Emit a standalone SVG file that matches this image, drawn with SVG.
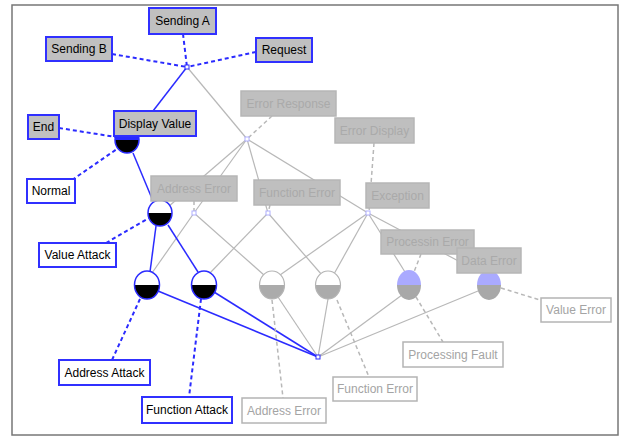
<svg xmlns="http://www.w3.org/2000/svg" width="620" height="437" viewBox="0 0 620 437">
<style>
text{font-family:"Liberation Sans",Arial,sans-serif;font-size:12px;text-anchor:middle}
.bb rect{fill:#c0c0c0;stroke:#3030ff;stroke-width:2}
.bw rect{fill:#fff;stroke:#3030ff;stroke-width:2}
.bb text,.bw text{fill:#000}
.gb rect{fill:#bfbfbf;stroke:#b6b6b6;stroke-width:1.5}
.gb text{fill:#aaaaaa}
.gw rect{fill:#fff;stroke:#b4b4b4;stroke-width:1.5}
.gw text{fill:#a4a4a4}
.bs{stroke:#2b2bff;stroke-width:1.5;fill:none}
.bd{stroke:#2b2bff;stroke-width:2;stroke-dasharray:4 3;fill:none}
.gs{stroke:#b8b8b8;stroke-width:1.2;fill:none}
.gd{stroke:#b8b8b8;stroke-width:1.5;stroke-dasharray:4 3;fill:none}
.jb{fill:#fff;stroke:#2b2bff;stroke-width:1}
.jg{fill:#fff;stroke:#b0b0ff;stroke-width:1}
</style>
<rect x="12" y="5" width="606" height="430" fill="#fff" stroke="#777" stroke-width="1.5"/>
<g id="connectors">
<line class="bd" x1="183" y1="34" x2="187" y2="67"/>
<line class="bd" x1="112" y1="54" x2="187" y2="67"/>
<line class="bd" x1="256" y1="52" x2="187" y2="67"/>
<line class="bs" x1="187" y1="67" x2="153" y2="111"/>
<line class="gs" x1="187" y1="67" x2="247" y2="139"/>
<line class="gd" x1="272" y1="116" x2="247" y2="139"/>
<line class="gs" x1="247" y1="139" x2="161" y2="213"/>
<line class="gs" x1="247" y1="139" x2="194" y2="213"/>
<line class="gs" x1="247" y1="139" x2="268" y2="213"/>
<line class="gs" x1="247" y1="139" x2="368" y2="213"/>
<line class="gd" x1="374" y1="143" x2="369" y2="212"/>
<line class="gd" x1="194" y1="201" x2="194" y2="213"/>
<line class="gd" x1="270" y1="205" x2="268" y2="213"/>
<line class="gs" x1="194" y1="213" x2="152" y2="273"/>
<line class="gs" x1="194" y1="213" x2="264" y2="275"/>
<line class="gs" x1="268" y1="213" x2="209" y2="274"/>
<line class="gs" x1="268" y1="213" x2="322" y2="275"/>
<line class="gs" x1="368" y1="213" x2="280" y2="275"/>
<line class="gs" x1="368" y1="213" x2="334" y2="274"/>
<line class="gs" x1="368" y1="213" x2="405" y2="272"/>
<line class="gs" x1="368" y1="213" x2="481" y2="273"/>
<line class="gd" x1="421" y1="254" x2="414" y2="272"/>
<line class="bd" x1="59" y1="128" x2="116" y2="137"/>
<line class="bd" x1="72" y1="180" x2="117" y2="149"/>
<line class="bs" x1="133" y1="153" x2="153" y2="201"/>
<line class="bd" x1="106" y1="243" x2="149" y2="218"/>
<line class="bs" x1="156" y1="226" x2="150" y2="272"/>
<line class="bs" x1="168" y1="225" x2="198" y2="272"/>
<line class="bs" x1="158" y1="291" x2="318" y2="357"/>
<line class="bs" x1="214" y1="292" x2="318" y2="357"/>
<line class="gs" x1="278" y1="297" x2="318" y2="357"/>
<line class="gs" x1="328" y1="299" x2="318" y2="357"/>
<line class="gs" x1="402" y1="295" x2="318" y2="357"/>
<line class="gs" x1="478" y1="291" x2="318" y2="357"/>
<line class="bd" x1="140" y1="299" x2="112" y2="360"/>
<line class="bd" x1="201" y1="299" x2="189" y2="397"/>
<line class="gd" x1="272" y1="300" x2="283" y2="398"/>
<line class="gd" x1="337" y1="300" x2="369" y2="377"/>
<line class="gd" x1="416" y1="297" x2="443" y2="342"/>
<line class="gd" x1="501" y1="288" x2="540" y2="300"/>
<rect class="jb" x="185" y="65" width="4" height="4"/>
<rect class="jg" x="245" y="137" width="4" height="4"/>
<rect class="jg" x="192" y="211" width="4" height="4"/>
<rect class="jg" x="266" y="211" width="4" height="4"/>
<rect class="jg" x="366" y="211" width="4" height="4"/>
<rect class="jb" x="316" y="355" width="4" height="4"/>
</g>
<g id="state-display">
<path d="M115,140 A12,13 0 0 1 139,140 Z" fill="#2b2bff"/>
<path d="M115,140 A12,13 0 0 0 139,140 Z" fill="#000"/>
<ellipse cx="127" cy="140" rx="12" ry="13" fill="none" stroke="#2b2bff" stroke-width="1.5"/>
</g>
<g id="state-value">
<ellipse cx="160" cy="213" rx="12" ry="13" fill="#fff"/>
<path d="M148,213 A12,13 0 0 0 172,213 Z" fill="#000"/>
<ellipse cx="160" cy="213" rx="12" ry="13" fill="none" stroke="#2b2bff" stroke-width="1.5"/>
</g>
<g id="state-address">
<ellipse cx="147" cy="285" rx="12.5" ry="14" fill="#fff"/>
<path d="M134.5,285 A12.5,14 0 0 0 159.5,285 Z" fill="#000"/>
<ellipse cx="147" cy="285" rx="12.5" ry="14" fill="none" stroke="#2b2bff" stroke-width="1.5"/>
</g>
<g id="state-function">
<ellipse cx="204" cy="285" rx="12.5" ry="14" fill="#fff"/>
<path d="M191.5,285 A12.5,14 0 0 0 216.5,285 Z" fill="#000"/>
<ellipse cx="204" cy="285" rx="12.5" ry="14" fill="none" stroke="#2b2bff" stroke-width="1.5"/>
</g>
<g id="state-g1">
<ellipse cx="272" cy="285" rx="12.5" ry="14" fill="#fff"/>
<path d="M259.5,285 A12.5,14 0 0 0 284.5,285 Z" fill="#ababab"/>
<ellipse cx="272" cy="285" rx="12.5" ry="14" fill="none" stroke="#b4b4b4" stroke-width="1.2"/>
</g>
<g id="state-g2">
<ellipse cx="328" cy="285" rx="12.5" ry="14" fill="#fff"/>
<path d="M315.5,285 A12.5,14 0 0 0 340.5,285 Z" fill="#ababab"/>
<ellipse cx="328" cy="285" rx="12.5" ry="14" fill="none" stroke="#b4b4b4" stroke-width="1.2"/>
</g>
<g id="state-b1">
<path d="M397,285 A12,15 0 0 1 421,285 Z" fill="#aaaaff"/>
<path d="M397,285 A12,15 0 0 0 421,285 Z" fill="#a8a8a8"/>
</g>
<g id="state-b2">
<path d="M477,285 A12,15 0 0 1 501,285 Z" fill="#aaaaff"/>
<path d="M477,285 A12,15 0 0 0 501,285 Z" fill="#a8a8a8"/>
</g>
<g id="sending-a" class="bb"><rect x="149" y="8" width="67" height="26"/><text x="182.5" y="25">Sending A</text></g>
<g id="sending-b" class="bb"><rect x="46" y="37" width="66" height="24"/><text x="79" y="53">Sending B</text></g>
<g id="request" class="bb"><rect x="256" y="38" width="56" height="24"/><text x="284" y="54">Request</text></g>
<g id="end" class="bb"><rect x="28" y="115" width="31" height="24"/><text x="43.5" y="131">End</text></g>
<g id="display-value" class="bb"><rect x="114" y="111" width="82" height="25"/><text x="155" y="128">Display Value</text></g>
<g id="normal" class="bw"><rect x="27" y="179" width="48" height="24"/><text x="51" y="195">Normal</text></g>
<g id="value-attack" class="bw"><rect x="39" y="243" width="77" height="24"/><text x="77.5" y="259">Value Attack</text></g>
<g id="address-attack" class="bw"><rect x="59" y="360" width="91" height="25"/><text x="104.5" y="377">Address Attack</text></g>
<g id="function-attack" class="bw"><rect x="142" y="397" width="90" height="26"/><text x="187" y="414">Function Attack</text></g>
<g id="error-response" class="gb"><rect x="241" y="91" width="95" height="25"/><text x="288.5" y="108">Error Response</text></g>
<g id="error-display" class="gb"><rect x="335" y="118" width="79" height="25"/><text x="374.5" y="135">Error Display</text></g>
<g id="address-error-g" class="gb"><rect x="151" y="176" width="86" height="25"/><text x="194" y="193">Address Error</text></g>
<g id="function-error-g" class="gb"><rect x="254" y="180" width="86" height="25"/><text x="297" y="197">Function Error</text></g>
<g id="exception" class="gb"><rect x="366" y="183" width="63" height="25"/><text x="397.5" y="200">Exception</text></g>
<g id="processin-error" class="gb"><rect x="381" y="230" width="93" height="24"/><text x="427.5" y="246">Processin Error</text></g>
<g id="data-error" class="gb"><rect x="457" y="248" width="64" height="25"/><text x="489" y="265">Data Error</text></g>
<g id="function-error-w" class="gw"><rect x="333" y="377" width="84" height="24"/><text x="375" y="393">Function Error</text></g>
<g id="address-error-w" class="gw"><rect x="242" y="398" width="84" height="25"/><text x="284" y="415">Address Error</text></g>
<g id="processing-fault" class="gw"><rect x="403" y="342" width="100" height="25"/><text x="453" y="359">Processing Fault</text></g>
<g id="value-error" class="gw"><rect x="541" y="298" width="70" height="24"/><text x="576" y="314">Value Error</text></g>
</svg>
